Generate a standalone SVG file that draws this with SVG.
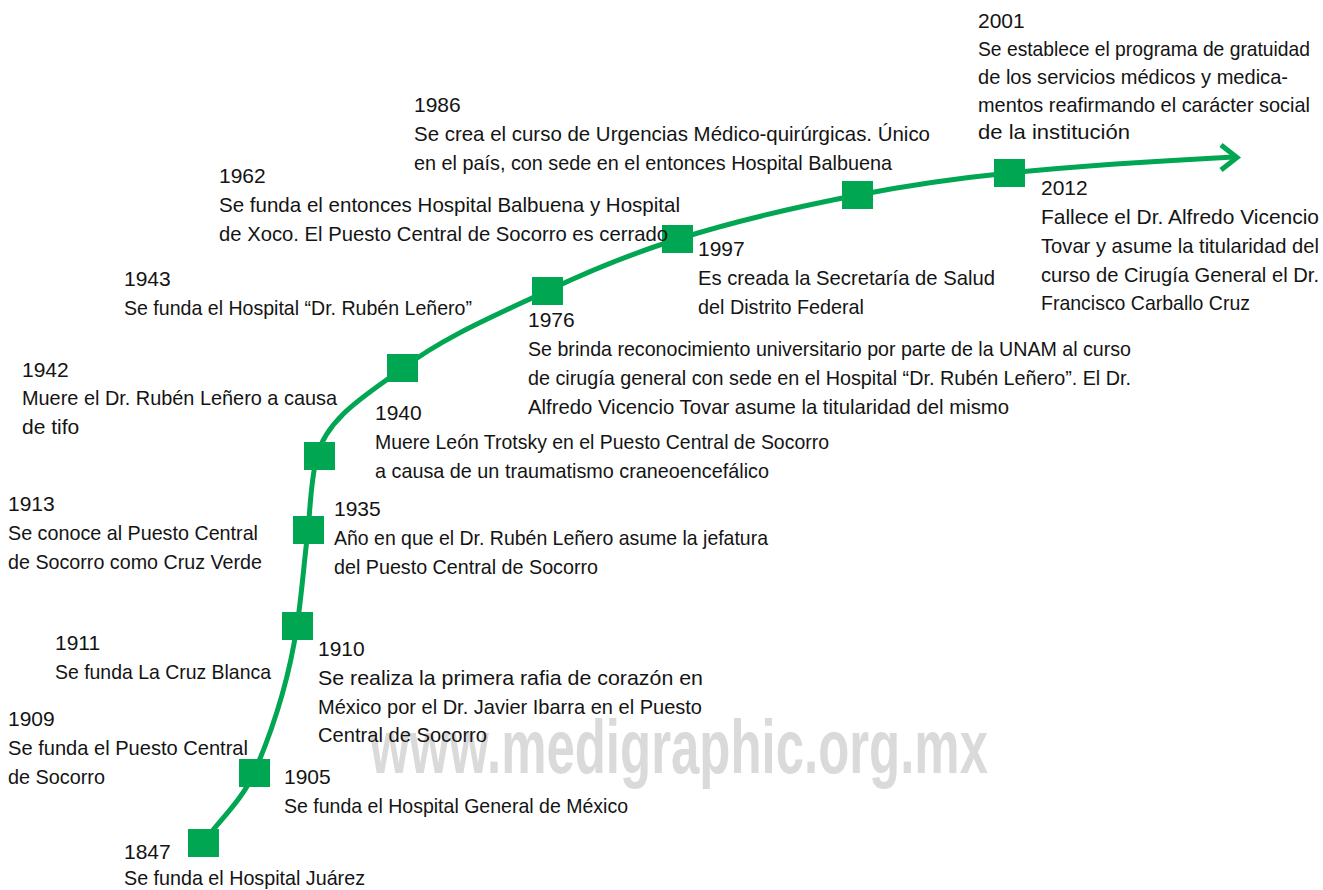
<svg xmlns="http://www.w3.org/2000/svg" width="1323" height="890" viewBox="0 0 1323 890">
<style>
.t{font-family:"Liberation Sans",Arial,Helvetica,sans-serif;font-size:21px;fill:#141414}
.sq{fill:#00a651}
.ln{fill:none;stroke:#00a651;stroke-width:5;stroke-linecap:butt;stroke-linejoin:miter}
.wm{font-family:"Liberation Sans",Arial,sans-serif;font-weight:bold;font-size:76px;fill:#dadada}
</style>
<rect width="1323" height="890" fill="#ffffff"/>
<text class="wm" x="370" y="773" textLength="618" lengthAdjust="spacingAndGlyphs">www.medigraphic.org.mx</text>
<g id="connectors">
<path class="ln" d="M203,843 C220,819.6 242.4,799.6 254,773 C274.4,726.1 289.4,676.5 297,626 C301.8,594.1 304.1,561.9 308,530 C310.5,505.1 310.8,480.2 317,456 C327.3,416.2 370.2,392.6 403,368 C446.5,335.4 498,314.4 547,291 C589.3,270.8 633.4,253.1 678,239 C736.7,220.5 797.4,206.7 858,195 C907.9,185.3 958.4,178.1 1009,173 C1084.1,165.5 1159.5,160.8 1234,157"/>
<polyline class="ln" points="1221,145 1237,157.5 1221,170"/>
</g>
<g id="markers">
<rect class="sq" x="188" y="829" width="31" height="28"/>
<rect class="sq" x="239" y="759" width="31" height="28"/>
<rect class="sq" x="282" y="612" width="31" height="28"/>
<rect class="sq" x="293" y="516" width="31" height="28"/>
<rect class="sq" x="304" y="442" width="31" height="28"/>
<rect class="sq" x="387" y="354" width="31" height="28"/>
<rect class="sq" x="532" y="277" width="31" height="28"/>
<rect class="sq" x="662" y="225" width="31" height="28"/>
<rect class="sq" x="842" y="181" width="31" height="28"/>
<rect class="sq" x="994" y="159" width="31" height="28"/>
</g>
<g id="e1847">
<text class="t" x="124" y="859">1847</text>
<text class="t" x="124" y="885" textLength="241" lengthAdjust="spacingAndGlyphs">Se funda el Hospital Juárez</text>
</g>
<g id="e1905">
<text class="t" x="284" y="784">1905</text>
<text class="t" x="284" y="813" textLength="344" lengthAdjust="spacingAndGlyphs">Se funda el Hospital General de México</text>
</g>
<g id="e1909">
<text class="t" x="8" y="726">1909</text>
<text class="t" x="8" y="755" textLength="240" lengthAdjust="spacingAndGlyphs">Se funda el Puesto Central</text>
<text class="t" x="8" y="784" textLength="97" lengthAdjust="spacingAndGlyphs">de Socorro</text>
</g>
<g id="e1911">
<text class="t" x="55" y="650">1911</text>
<text class="t" x="55" y="679" textLength="216" lengthAdjust="spacingAndGlyphs">Se funda La Cruz Blanca</text>
</g>
<g id="e1910">
<text class="t" x="318" y="656">1910</text>
<text class="t" x="318" y="685" textLength="385" lengthAdjust="spacingAndGlyphs">Se realiza la primera rafia de corazón en</text>
<text class="t" x="318" y="714" textLength="384" lengthAdjust="spacingAndGlyphs">México por el Dr. Javier Ibarra en el Puesto</text>
<text class="t" x="318" y="742" textLength="169" lengthAdjust="spacingAndGlyphs">Central de Socorro</text>
</g>
<g id="e1913">
<text class="t" x="8" y="511">1913</text>
<text class="t" x="8" y="540" textLength="250" lengthAdjust="spacingAndGlyphs">Se conoce al Puesto Central</text>
<text class="t" x="8" y="569" textLength="254" lengthAdjust="spacingAndGlyphs">de Socorro como Cruz Verde</text>
</g>
<g id="e1935">
<text class="t" x="334" y="516">1935</text>
<text class="t" x="334" y="545" textLength="434" lengthAdjust="spacingAndGlyphs">Año en que el Dr. Rubén Leñero asume la jefatura</text>
<text class="t" x="334" y="574" textLength="264" lengthAdjust="spacingAndGlyphs">del Puesto Central de Socorro</text>
</g>
<g id="e1942">
<text class="t" x="22" y="377">1942</text>
<text class="t" x="22" y="405" textLength="315" lengthAdjust="spacingAndGlyphs">Muere el Dr. Rubén Leñero a causa</text>
<text class="t" x="22" y="434">de tifo</text>
</g>
<g id="e1940">
<text class="t" x="375" y="420">1940</text>
<text class="t" x="375" y="449" textLength="454" lengthAdjust="spacingAndGlyphs">Muere León Trotsky en el Puesto Central de Socorro</text>
<text class="t" x="375" y="478" textLength="394" lengthAdjust="spacingAndGlyphs">a causa de un traumatismo craneoencefálico</text>
</g>
<g id="e1943">
<text class="t" x="124" y="286">1943</text>
<text class="t" x="124" y="315" textLength="348" lengthAdjust="spacingAndGlyphs">Se funda el Hospital “Dr. Rubén Leñero”</text>
</g>
<g id="e1962">
<text class="t" x="219" y="183">1962</text>
<text class="t" x="219" y="212" textLength="461" lengthAdjust="spacingAndGlyphs">Se funda el entonces Hospital Balbuena y Hospital</text>
<text class="t" x="219" y="241" textLength="449" lengthAdjust="spacingAndGlyphs">de Xoco. El Puesto Central de Socorro es cerrado</text>
</g>
<g id="e1976">
<text class="t" x="528" y="327">1976</text>
<text class="t" x="528" y="356" textLength="603" lengthAdjust="spacingAndGlyphs">Se brinda reconocimiento universitario por parte de la UNAM al curso</text>
<text class="t" x="528" y="385" textLength="603" lengthAdjust="spacingAndGlyphs">de cirugía general con sede en el Hospital “Dr. Rubén Leñero”. El Dr.</text>
<text class="t" x="528" y="414" textLength="481" lengthAdjust="spacingAndGlyphs">Alfredo Vicencio Tovar asume la titularidad del mismo</text>
</g>
<g id="e1986">
<text class="t" x="414" y="112">1986</text>
<text class="t" x="414" y="141" textLength="516" lengthAdjust="spacingAndGlyphs">Se crea el curso de Urgencias Médico-quirúrgicas. Único</text>
<text class="t" x="414" y="170" textLength="478" lengthAdjust="spacingAndGlyphs">en el país, con sede en el entonces Hospital Balbuena</text>
</g>
<g id="e1997">
<text class="t" x="698" y="256">1997</text>
<text class="t" x="698" y="285" textLength="297" lengthAdjust="spacingAndGlyphs">Es creada la Secretaría de Salud</text>
<text class="t" x="698" y="314" textLength="166" lengthAdjust="spacingAndGlyphs">del Distrito Federal</text>
</g>
<g id="e2001">
<text class="t" x="978" y="28">2001</text>
<text class="t" x="978" y="56" textLength="332" lengthAdjust="spacingAndGlyphs">Se establece el programa de gratuidad</text>
<text class="t" x="978" y="84" textLength="310" lengthAdjust="spacingAndGlyphs">de los servicios médicos y medica-</text>
<text class="t" x="978" y="112" textLength="332" lengthAdjust="spacingAndGlyphs">mentos reafirmando el carácter social</text>
<text class="t" x="978" y="139" textLength="152" lengthAdjust="spacingAndGlyphs">de la institución</text>
</g>
<g id="e2012">
<text class="t" x="1041" y="195">2012</text>
<text class="t" x="1041" y="224" textLength="278" lengthAdjust="spacingAndGlyphs">Fallece el Dr. Alfredo Vicencio</text>
<text class="t" x="1041" y="253" textLength="278" lengthAdjust="spacingAndGlyphs">Tovar y asume la titularidad del</text>
<text class="t" x="1041" y="282" textLength="278" lengthAdjust="spacingAndGlyphs">curso de Cirugía General el Dr.</text>
<text class="t" x="1041" y="310" textLength="209" lengthAdjust="spacingAndGlyphs">Francisco Carballo Cruz</text>
</g>
</svg>
